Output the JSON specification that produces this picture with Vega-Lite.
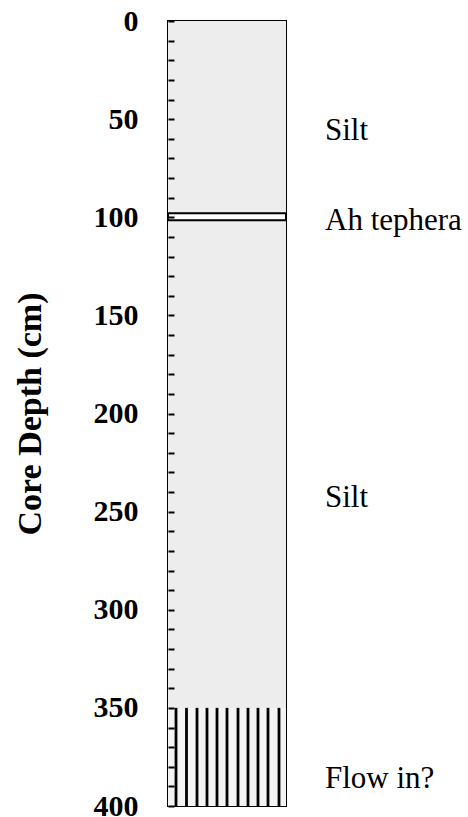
{
  "$schema": "https://vega.github.io/schema/vega-lite/v6.json",
  "width": 118,
  "height": 785,
  "autosize": "none",
  "padding": {"left": 168, "top": 21, "right": 182, "bottom": 11},
  "background": "white",
  "config": {
    "view": {"stroke": "black", "strokeWidth": 2},
    "font": "Liberation Serif"
  },
  "datasets": {
    "units": [
      {"unit": "Silt", "top": 0, "bottom": 350},
      {"unit": "Ah tephera", "top": 98, "bottom": 101.5},
      {"unit": "Flow in?", "top": 350, "bottom": 400}
    ],
    "hatch": [
      {"pos": 8}, {"pos": 18.5}, {"pos": 29}, {"pos": 39}, {"pos": 49},
      {"pos": 59}, {"pos": 70}, {"pos": 80}, {"pos": 90}, {"pos": 100}, {"pos": 111}
    ],
    "labels": [
      {"depth": 56, "label": "Silt"},
      {"depth": 102, "label": "Ah tephera"},
      {"depth": 243, "label": "Silt"},
      {"depth": 386, "label": "Flow in?"}
    ]
  },
  "layer": [
    {
      "data": {"name": "units"},
      "transform": [{"filter": "datum.unit === 'Silt'"}],
      "mark": {"type": "rect", "fill": "#ededed"},
      "encoding": {
        "y": {
          "field": "top", "type": "quantitative",
          "scale": {"domain": [0, 400], "reverse": true, "nice": false, "zero": false},
          "axis": {
            "values": [0,10,20,30,40,50,60,70,80,90,100,110,120,130,140,150,160,170,180,190,200,210,220,230,240,250,260,270,280,290,300,310,320,330,340,350,360,370,380,390,400],
            "tickCount": 100,
            "labelExpr": "datum.value % 50 === 0 ? datum.label : ''",
            "labelOverlap": false,
            "labelFlush": false,
            "labelFont": "Liberation Serif",
            "labelFontSize": {"condition": {"test": "datum.value % 50 !== 0", "value": 0}, "value": 30},
            "labelFontWeight": "bold",
            "labelColor": "black",
            "labelPadding": 36,
            "tickSize": -6,
            "tickWidth": 2,
            "tickColor": "black",
            "domain": false,
            "grid": false,
            "zindex": 2,
            "title": "Core Depth (cm)",
            "titleFont": "Liberation Serif",
            "titleFontSize": 34,
            "titleFontWeight": "bold",
            "titleColor": "black",
            "titlePadding": 46
          }
        },
        "y2": {"field": "bottom"},
        "x": {"datum": 0, "type": "quantitative", "scale": {"domain": [0, 118], "nice": false}, "axis": null},
        "x2": {"datum": 118}
      }
    },
    {
      "data": {"name": "units"},
      "transform": [{"filter": "datum.unit === 'Flow in?'"}],
      "mark": {"type": "rect", "fill": "#f3f3f3"},
      "encoding": {
        "y": {"field": "top", "type": "quantitative"},
        "y2": {"field": "bottom"},
        "x": {"datum": 0, "type": "quantitative"},
        "x2": {"datum": 118}
      }
    },
    {
      "data": {"name": "hatch"},
      "mark": {"type": "rule", "color": "black", "strokeWidth": 2.8},
      "encoding": {
        "x": {"field": "pos", "type": "quantitative"},
        "y": {"datum": 350, "type": "quantitative"},
        "y2": {"datum": 400}
      }
    },
    {
      "data": {"name": "units"},
      "transform": [{"filter": "datum.unit === 'Ah tephera'"}],
      "mark": {"type": "rect", "fill": "white", "stroke": "black", "strokeWidth": 2},
      "encoding": {
        "y": {"field": "top", "type": "quantitative"},
        "y2": {"field": "bottom"},
        "x": {"datum": 0, "type": "quantitative"},
        "x2": {"datum": 118}
      }
    },
    {
      "data": {"name": "labels"},
      "mark": {"type": "text", "align": "left", "baseline": "middle", "dx": 39, "font": "Liberation Serif", "fontSize": 31, "color": "black", "clip": false},
      "encoding": {
        "y": {"field": "depth", "type": "quantitative"},
        "x": {"datum": 118, "type": "quantitative"},
        "text": {"field": "label"}
      }
    }
  ]
}
